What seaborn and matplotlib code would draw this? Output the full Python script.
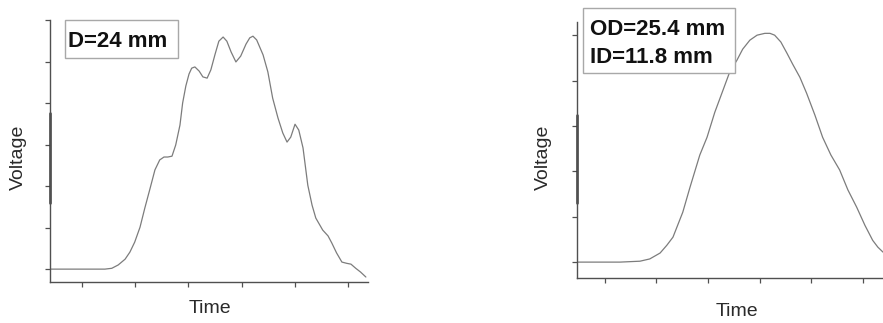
import numpy as np
import pandas as pd
import matplotlib
matplotlib.use("Agg")
import matplotlib.pyplot as plt
import seaborn as sns
from matplotlib.patches import Rectangle

# ---- data (time in tick units, voltage in tick units) ----
time_left = [0.40, 0.96, 1.43, 1.56, 1.68, 1.81, 1.90, 1.99, 2.09, 2.18, 2.28, 2.37,
             2.46, 2.54, 2.61, 2.69, 2.76, 2.84, 2.89, 2.95, 3.01, 3.06, 3.12, 3.20,
             3.27, 3.35, 3.42, 3.50, 3.57, 3.65, 3.72, 3.80, 3.89, 3.98, 4.08, 4.15,
             4.21, 4.28, 4.40, 4.49, 4.58, 4.68, 4.77, 4.85, 4.92, 5.00, 5.07, 5.15,
             5.24, 5.32, 5.39, 5.52, 5.62, 5.69, 5.78, 5.88, 5.97, 6.05, 6.14, 6.23, 6.33]
volt_left = [0.00, 0.00, 0.00, 0.02, 0.10, 0.24, 0.41, 0.65, 1.01, 1.47, 1.95, 2.39,
             2.63, 2.70, 2.70, 2.72, 2.99, 3.47, 4.00, 4.41, 4.70, 4.84, 4.87, 4.77,
             4.63, 4.60, 4.80, 5.18, 5.49, 5.59, 5.49, 5.23, 4.99, 5.13, 5.42, 5.57,
             5.61, 5.52, 5.16, 4.75, 4.12, 3.64, 3.28, 3.06, 3.18, 3.49, 3.35, 2.92,
             2.02, 1.54, 1.23, 0.94, 0.80, 0.63, 0.39, 0.17, 0.14, 0.12, 0.02, -0.07, -0.19]

time_right = [0.46, 0.90, 1.29, 1.68, 1.87, 2.07, 2.20, 2.32, 2.51, 2.65, 2.84, 2.98,
              3.13, 3.29, 3.42, 3.56, 3.67, 3.81, 3.95, 4.10, 4.20, 4.29, 4.41, 4.53,
              4.64, 4.78, 4.91, 5.07, 5.22, 5.38, 5.55, 5.71, 5.88, 6.04, 6.19, 6.29, 6.39]
volt_right = [0.00, 0.00, 0.00, 0.02, 0.07, 0.20, 0.37, 0.55, 1.10, 1.65, 2.36, 2.75,
              3.30, 3.79, 4.19, 4.45, 4.69, 4.89, 5.00, 5.04, 5.04, 5.00, 4.85, 4.60,
              4.36, 4.07, 3.72, 3.24, 2.75, 2.36, 2.03, 1.59, 1.21, 0.81, 0.48, 0.33, 0.22]

xticks_left = [1, 2, 3, 4, 5, 6]
yticks_left = [0, 1, 2, 3, 4, 5, 6]
xticks_right = [1, 2, 3, 4, 5, 6]
yticks_right = [0, 1, 2, 3, 4, 5]

label_left = "D=24 mm"
label_right = "OD=25.4 mm\nID=11.8 mm"
xlabel = "Time"
ylabel = "Voltage"

df_left = pd.DataFrame({"Time": time_left, "Voltage": volt_left})
df_right = pd.DataFrame({"Time": time_right, "Voltage": volt_right})

sns.set_theme(style="white")
plt.rcParams['font.family'] = ['Liberation Sans', 'DejaVu Sans']

W, H = 883, 323
fig = plt.figure(figsize=(W / 100, H / 100), dpi=100)

def px_rect(x0, y0, x1, y1):
    return [x0 / W, 1 - y1 / H, (x1 - x0) / W, (y1 - y0) / H]

ax1 = fig.add_axes(px_rect(50, 20, 368, 282))
ax2 = fig.add_axes(px_rect(577, 22, 883, 278))

line_color = "#7c7c7c"
spine_color = "#505050"
text_color = "#2a2a2a"

for ax, df, xl, yl, xt, yt in [
    (ax1, df_left, (0.40, 6.37), (-0.31, 6.0), xticks_left, yticks_left),
    (ax2, df_right, (0.46, 6.39), (-0.35, 5.29), xticks_right, yticks_right),
]:
    sns.lineplot(data=df, x="Time", y="Voltage", ax=ax, color=line_color,
                 linewidth=0.9, sort=False, estimator=None)
    ax.set_xlim(*xl)
    ax.set_ylim(*yl)
    ax.set_xticks(xt)
    ax.set_yticks(yt)
    ax.set_xticklabels([])
    ax.set_yticklabels([])
    for s in ["top", "right"]:
        ax.spines[s].set_visible(False)
    for s in ["left", "bottom"]:
        ax.spines[s].set_color(spine_color)
        ax.spines[s].set_linewidth(1.0)
    ax.tick_params(axis="both", which="both", direction="out", length=3.5,
                   width=0.9, color=spine_color, left=True, bottom=True)
    ax.set_xlabel(xlabel, fontsize=14, color=text_color)
    ax.set_ylabel(ylabel, fontsize=14, color=text_color)
    ax.patch.set_alpha(0)

ax1.xaxis.set_label_coords(0.503, -0.069)
ax1.yaxis.set_label_coords(-0.072, 0.477)
ax2.xaxis.set_label_coords(0.523, -0.098)
ax2.yaxis.set_label_coords(-0.082, 0.473)

# darker segment on the y axis lines
ax1.axvline(ax1.get_xlim()[0], ymin=0.30, ymax=0.645, color="#3a3a3a", lw=1.8, clip_on=False)
ax2.axvline(ax2.get_xlim()[0], ymin=0.293, ymax=0.637, color="#3a3a3a", lw=1.8, clip_on=False)

# annotation boxes
for (x0, y0, x1, y1) in [(65, 20, 178, 58), (583, 8, 735, 73)]:
    r = px_rect(x0, y0, x1, y1)
    fig.patches.append(Rectangle((r[0], r[1]), r[2], r[3], transform=fig.transFigure,
                                 facecolor="white", edgecolor="#a8a8a8", lw=1.0, zorder=5))

fig.text(68 / W, 1 - 47 / H, label_left, fontsize=16, fontweight="bold",
         color="#111111", ha="left", va="baseline", zorder=6)
lines = label_right.split("\n")
fig.text(590 / W, 1 - 35 / H, lines[0], fontsize=16, fontweight="bold",
         color="#111111", ha="left", va="baseline", zorder=6)
fig.text(590 / W, 1 - 63 / H, lines[1], fontsize=16, fontweight="bold",
         color="#111111", ha="left", va="baseline", zorder=6)

fig.savefig("out.png", dpi=100, facecolor="white")
